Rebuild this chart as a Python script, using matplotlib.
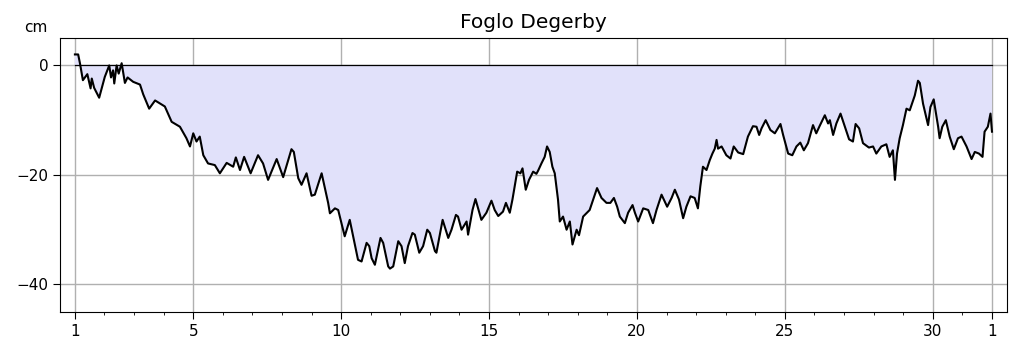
import numpy as np
import matplotlib
matplotlib.use("Agg")
import matplotlib.pyplot as plt
from matplotlib.ticker import MultipleLocator, FixedLocator

# time in days of the month, level in cm
days = [
    1.00, 1.11, 1.17, 1.27, 1.42, 1.53, 1.57, 1.65, 1.82, 2.01, 2.09, 2.16, 2.22, 2.29,
    2.33, 2.41, 2.48, 2.58, 2.69, 2.78, 2.97, 3.20, 3.31, 3.51, 3.71, 4.04, 4.27, 4.55,
    4.77, 4.89, 5.00, 5.11, 5.22, 5.34, 5.50, 5.73, 5.90, 6.13, 6.35, 6.44, 6.58, 6.72,
    6.94, 7.19, 7.36, 7.53, 7.82, 8.04, 8.32, 8.40, 8.55, 8.66, 8.83, 9.00, 9.11, 9.34,
    9.56, 9.62, 9.79, 9.90, 10.12, 10.29, 10.57, 10.69, 10.86, 10.95, 11.03, 11.14,
    11.33, 11.42, 11.59, 11.65, 11.76, 11.93, 12.04, 12.15, 12.26, 12.41, 12.49, 12.64,
    12.77, 12.91, 13.00, 13.17, 13.22, 13.43, 13.62, 13.73, 13.88, 13.95, 14.07, 14.24,
    14.29, 14.44, 14.54, 14.74, 14.91, 15.08, 15.19, 15.31, 15.47, 15.57, 15.70, 15.79,
    15.95, 16.06, 16.13, 16.24, 16.35, 16.49, 16.60, 16.66, 16.77, 16.88, 16.96, 17.05,
    17.14, 17.22, 17.33, 17.39, 17.50, 17.62, 17.73, 17.82, 17.96, 18.04, 18.18, 18.40,
    18.52, 18.65, 18.80, 18.97, 19.10, 19.22, 19.33, 19.42, 19.59, 19.70, 19.85, 19.93,
    20.04, 20.21, 20.38, 20.54, 20.66, 20.83, 21.02, 21.17, 21.28, 21.42, 21.56, 21.67,
    21.81, 21.95, 22.06, 22.14, 22.23, 22.35, 22.46, 22.55, 22.63, 22.69, 22.74, 22.86,
    23.02, 23.16, 23.27, 23.42, 23.59, 23.75, 23.92, 24.04, 24.13, 24.21, 24.35, 24.51,
    24.66, 24.85, 24.94, 25.11, 25.25, 25.39, 25.52, 25.64, 25.78, 25.95, 26.06, 26.18,
    26.35, 26.46, 26.52, 26.63, 26.74, 26.88, 26.99, 27.17, 27.30, 27.39, 27.51, 27.64,
    27.84, 27.98, 28.09, 28.26, 28.43, 28.54, 28.65, 28.72, 28.79, 28.88, 28.99, 29.11,
    29.22, 29.39, 29.50, 29.56, 29.67, 29.84, 29.92, 30.03, 30.18, 30.23, 30.32, 30.44,
    30.57, 30.71, 30.85, 30.97, 31.14, 31.31, 31.42, 31.56, 31.68, 31.75, 31.86, 31.95,
    32.00,
]
level = [
    2.0, 2.0, 0.4, -2.7, -1.6, -4.2, -2.4, -4.1, -5.9, -2.1, -1.0, 0.0, -2.2, -0.9,
    -3.3, 0.0, -1.5, 0.4, -3.2, -2.2, -3.0, -3.5, -5.3, -7.9, -6.4, -7.5, -10.3, -11.2,
    -13.3, -14.8, -12.4, -13.9, -13.0, -16.4, -17.9, -18.2, -19.7, -17.8, -18.5, -16.8, -19.1, -16.7,
    -19.7, -16.4, -17.9, -20.9, -17.1, -20.4, -15.3, -15.8, -20.6, -21.8, -19.7, -23.8, -23.6, -19.7,
    -25.1, -27.0, -26.1, -26.4, -31.2, -28.2, -35.5, -35.8, -32.4, -33.0, -35.2, -36.4,
    -31.5, -32.4, -36.7, -37.1, -36.7, -32.1, -33.0, -36.1, -33.0, -30.6, -30.9, -34.2,
    -33.0, -30.0, -30.6, -33.9, -34.2, -28.2, -31.5, -30.0, -27.3, -27.6, -30.0, -28.5,
    -30.9, -26.4, -24.4, -28.2, -26.9, -24.7, -26.4, -27.5, -26.7, -25.1, -26.9, -24.5,
    -19.4, -19.7, -18.8, -22.7, -20.9, -19.4, -19.8, -19.2, -17.9, -16.7, -14.8, -15.8,
    -18.5, -19.7, -24.5, -28.5, -27.6, -30.0, -28.5, -32.7, -30.0, -31.0, -27.6, -26.4,
    -24.5, -22.4, -24.2, -25.1, -25.1, -24.2, -25.8, -27.6, -28.8, -26.9, -25.5, -26.9,
    -28.5, -26.1, -26.4, -28.8, -26.4, -23.6, -25.8, -24.2, -22.7, -24.5, -27.9, -25.8,
    -23.9, -24.2, -26.1, -22.1, -18.5, -19.1, -17.3, -16.1, -15.2, -13.6, -15.2, -14.8,
    -16.4, -17.0, -14.8, -15.9, -16.2, -13.0, -11.1, -11.2, -12.7, -11.5, -10.0, -11.8,
    -12.4, -10.7, -12.7, -16.1, -16.4, -14.8, -14.1, -15.5, -14.2, -10.9, -12.4, -11.0,
    -9.1, -10.6, -10.0, -12.7, -10.6, -8.8, -10.6, -13.5, -13.9, -10.7, -11.5, -14.2,
    -15.0, -14.8, -16.1, -14.8, -14.4, -16.7, -15.5, -20.9, -16.1, -13.3, -10.9, -7.9,
    -8.2, -5.5, -2.8, -3.2, -7.0, -10.9, -7.6, -6.2, -11.2, -13.3, -11.2, -10.0,
    -13.0, -15.3, -13.3, -13.0, -14.8, -17.1, -15.8, -16.1, -16.7, -12.1, -11.2, -8.8,
    -12.1,
]
tick_days = [1, 5, 10, 15, 20, 25, 30, 32]
tick_labels = ["1", "5", "10", "15", "20", "25", "30", "1"]

t = np.array(days)
v = np.array(level)

fig = plt.figure(figsize=(10.19, 3.52), dpi=100)
ax = fig.add_axes([0.059, 0.114, 0.929, 0.778])

ax.fill_between(t, v, 0, facecolor="#e1e1fa", edgecolor="none", zorder=1)
ax.plot([t[0], t[-1]], [0, 0], color="black", lw=0.9, zorder=2)
ax.plot(t, v, color="black", lw=1.5, zorder=3)

ax.set_xlim(0.5, 32.5)
ax.set_ylim(-45, 5)
ax.xaxis.set_major_locator(FixedLocator(tick_days))
ax.set_xticklabels(tick_labels)
ax.xaxis.set_minor_locator(MultipleLocator(1))
ax.yaxis.set_major_locator(FixedLocator([-40, -20, 0]))
ax.grid(True, which="major", color="#b0b0b0", lw=1, zorder=0)
ax.set_axisbelow(True)
ax.tick_params(labelsize=11, length=5)
ax.tick_params(which="minor", length=2.5)

ax.set_title("Foglo Degerby", fontsize=14.5, pad=7)
ax.text(-0.026, 1.04, "cm", transform=ax.transAxes, fontsize=11,
        ha="center", va="center")

fig.savefig("out.png", dpi=100)
